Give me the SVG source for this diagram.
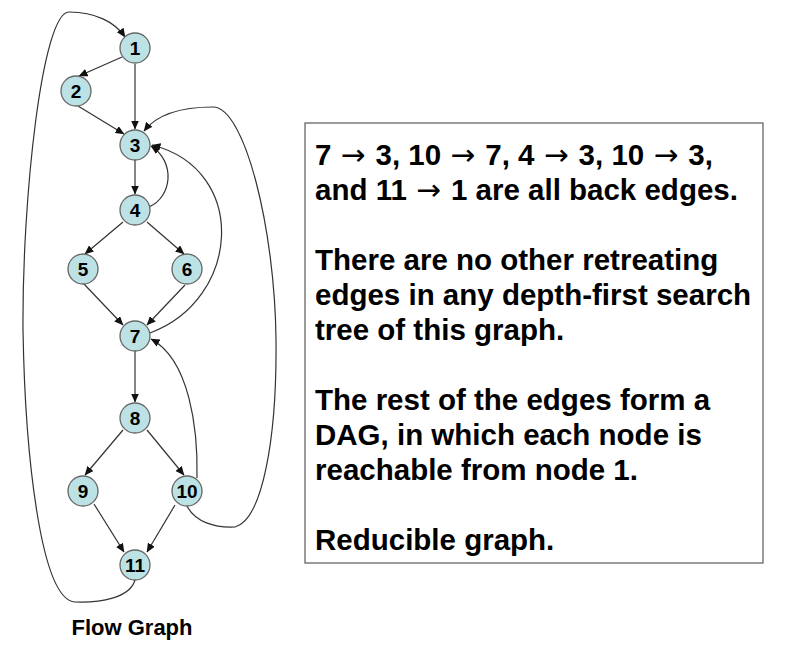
<svg xmlns="http://www.w3.org/2000/svg" width="793" height="660" viewBox="0 0 793 660">
<defs>
<marker id="arr" markerWidth="9" markerHeight="8" refX="8.5" refY="4" orient="auto" markerUnits="userSpaceOnUse">
<path d="M0,0 L9,4 L0,8 Z" fill="#111"/>
</marker>
<style>
.e{fill:none;stroke:#333;stroke-width:1.2;marker-end:url(#arr)}
.n circle{fill:#bce2e5;stroke:#666;stroke-width:1.3}
.n text{font-family:"Liberation Sans",Arial,sans-serif;font-weight:bold;font-size:19px;fill:#000;text-anchor:middle}
.t{font-family:"Liberation Sans",Arial,sans-serif;font-weight:bold;font-size:29.5px;fill:#000}
.a{font-family:"DejaVu Sans",sans-serif;font-weight:normal}
</style>
</defs>
<rect width="793" height="660" fill="#fff"/>
<g id="connectors">
<line class="e" x1="122" y1="57" x2="79" y2="76"/>
<line class="e" x1="135" y1="64" x2="135" y2="129"/>
<line class="e" x1="78" y1="106" x2="124" y2="134"/>
<line class="e" x1="135" y1="160" x2="135" y2="194"/>
<line class="e" x1="123" y1="222" x2="85" y2="254"/>
<line class="e" x1="147" y1="222" x2="184" y2="254"/>
<line class="e" x1="84" y1="284" x2="123" y2="325"/>
<line class="e" x1="185" y1="285" x2="147" y2="325"/>
<line class="e" x1="135" y1="351" x2="135" y2="402"/>
<line class="e" x1="123" y1="430" x2="85" y2="475"/>
<line class="e" x1="147" y1="430" x2="184" y2="475"/>
<line class="e" x1="94" y1="504" x2="124" y2="552"/>
<line class="e" x1="175" y1="505" x2="147" y2="552"/>
<path class="e" d="M149,207 C172,197 176,162 151,146"/>
<path class="e" d="M150,333 C240,300 250,170 152,145"/>
<path class="e" d="M197,478 C198,430 190,360 151,339"/>
<path class="e" d="M187,506 C195,522 215,528 235,527 C262,520 277,440 276,340 C275,230 245,107 213,107 C185,107 158,113 144,131"/>
<path class="e" d="M135,580 C130,598 100,603 75,602 C40,600 25,450 23,330 C22,200 42,12 69,12 C95,12 115,22 125,37"/>
</g>
<g id="n1" class="n"><circle cx="135" cy="48" r="15"/><text x="135" y="55">1</text></g>
<g id="n2" class="n"><circle cx="76" cy="91" r="15"/><text x="76" y="98">2</text></g>
<g id="n3" class="n"><circle cx="135" cy="145" r="15"/><text x="135" y="152">3</text></g>
<g id="n4" class="n"><circle cx="135" cy="210" r="15"/><text x="135" y="217">4</text></g>
<g id="n5" class="n"><circle cx="83" cy="269" r="15"/><text x="83" y="276">5</text></g>
<g id="n6" class="n"><circle cx="187" cy="269" r="15"/><text x="187" y="276">6</text></g>
<g id="n7" class="n"><circle cx="135" cy="336" r="15"/><text x="135" y="343">7</text></g>
<g id="n8" class="n"><circle cx="135" cy="418" r="15"/><text x="135" y="425">8</text></g>
<g id="n9" class="n"><circle cx="83" cy="491" r="15"/><text x="83" y="498">9</text></g>
<g id="n10" class="n"><circle cx="187" cy="491" r="15"/><text x="187" y="498">10</text></g>
<g id="n11" class="n"><circle cx="135" cy="565" r="15"/><text x="135" y="572">11</text></g>
<g id="caption"><text x="132" y="635" font-family="Liberation Sans, Arial, sans-serif" font-weight="bold" font-size="22" text-anchor="middle">Flow Graph</text></g>
<g id="note">
<rect x="305" y="123" width="458" height="440" fill="#fff" stroke="#666" stroke-width="1.3"/>
<text class="t" x="315" y="165">7 <tspan class="a" dx="1.5">→</tspan><tspan dx="1.5"> 3, 10 </tspan><tspan class="a" dx="1.5">→</tspan><tspan dx="1.5"> 7, 4 </tspan><tspan class="a" dx="1.5">→</tspan><tspan dx="1.5"> 3, 10 </tspan><tspan class="a" dx="1.5">→</tspan><tspan dx="1.5"> 3,</tspan></text>
<text class="t" x="315" y="200">and 11 <tspan class="a" dx="1.5">→</tspan><tspan dx="1.5"> 1 are all back edges.</tspan></text>
<text class="t" x="315" y="270">There are no other retreating</text>
<text class="t" x="315" y="305">edges in any depth-first search</text>
<text class="t" x="315" y="340">tree of this graph.</text>
<text class="t" x="315" y="410">The rest of the edges form a</text>
<text class="t" x="315" y="445">DAG, in which each node is</text>
<text class="t" x="315" y="480">reachable from node 1.</text>
<text class="t" x="315" y="550">Reducible graph.</text>
</g>
</svg>
